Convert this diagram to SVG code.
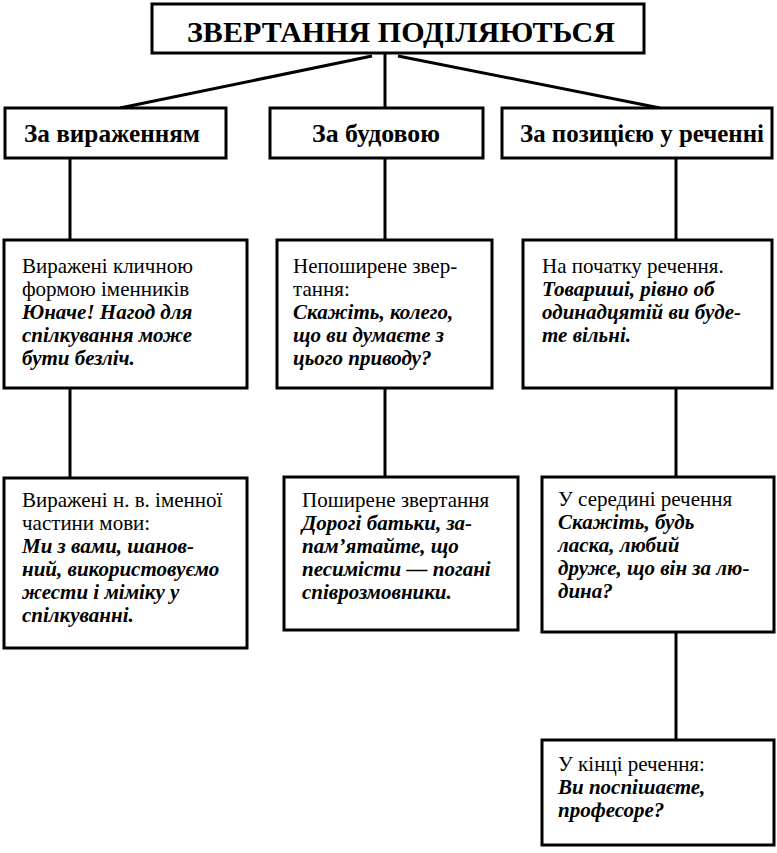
<svg xmlns="http://www.w3.org/2000/svg" width="777" height="853" viewBox="0 0 777 853">
<style>
.box{fill:#fff;stroke:#000;stroke-width:3}
.con{stroke:#000;stroke-width:3;fill:none}
.t{font-family:"Liberation Serif","Times New Roman",serif;font-size:21px;fill:#000}
.bi{font-family:"Liberation Serif","Times New Roman",serif;font-size:21px;font-weight:bold;font-style:italic;fill:#000}
.h{font-family:"Liberation Serif","Times New Roman",serif;font-size:25px;font-weight:bold;fill:#000;text-anchor:middle}
.title{font-family:"Liberation Serif","Times New Roman",serif;font-size:30px;font-weight:bold;fill:#000;text-anchor:middle}
</style>
<rect width="777" height="853" fill="#fff"/>
<g id="connectors">
<line class="con" x1="385" y1="53" x2="385" y2="108"/>
<line class="con" x1="372" y1="56" x2="120" y2="108"/>
<line class="con" x1="398" y1="56" x2="660" y2="108"/>
<line class="con" x1="70" y1="158" x2="70" y2="240"/>
<line class="con" x1="385" y1="158" x2="385" y2="240"/>
<line class="con" x1="676" y1="158" x2="676" y2="240"/>
<line class="con" x1="70" y1="388" x2="70" y2="478"/>
<line class="con" x1="385" y1="388" x2="385" y2="477"/>
<line class="con" x1="676" y1="388" x2="676" y2="477"/>
<line class="con" x1="676" y1="632" x2="676" y2="740"/>
</g>
<g id="title">
<rect class="box" x="152" y="4" width="492" height="49"/>
<text class="title" x="401" y="42" textLength="428" lengthAdjust="spacingAndGlyphs">ЗВЕРТАННЯ  ПОДІЛЯЮТЬСЯ</text>
</g>
<g id="h1">
<rect class="box" x="5" y="108" width="221" height="50"/>
<text class="h" x="112" y="142" textLength="176" lengthAdjust="spacingAndGlyphs">За вираженням</text>
</g>
<g id="h2">
<rect class="box" x="270" y="108" width="213" height="50"/>
<text class="h" x="376" y="142" textLength="128" lengthAdjust="spacingAndGlyphs">За будовою</text>
</g>
<g id="h3">
<rect class="box" x="502" y="108" width="270" height="50"/>
<text class="h" x="642" y="142" textLength="244" lengthAdjust="spacingAndGlyphs">За позицією у реченні</text>
</g>
<g id="a">
<rect class="box" x="4" y="240" width="243" height="148"/>
<text class="t" x="22" y="273">Виражені кличною</text>
<text class="t" x="22" y="296">формою іменників</text>
<text class="bi" x="22" y="319">Юначе! Нагод для</text>
<text class="bi" x="22" y="342">спілкування може</text>
<text class="bi" x="22" y="365">бути безліч.</text>
</g>
<g id="b">
<rect class="box" x="277" y="240" width="215" height="148"/>
<text class="t" x="293" y="273">Непоширене звер-</text>
<text class="t" x="293" y="296">тання:</text>
<text class="bi" x="293" y="319">Скажіть, колего,</text>
<text class="bi" x="293" y="342">що ви думаєте з</text>
<text class="bi" x="293" y="365">цього приводу?</text>
</g>
<g id="c">
<rect class="box" x="523" y="240" width="249" height="148"/>
<text class="t" x="542" y="273">На початку речення.</text>
<text class="bi" x="542" y="296">Товариші, рівно об</text>
<text class="bi" x="542" y="319">одинадцятій ви буде-</text>
<text class="bi" x="542" y="342">те вільні.</text>
</g>
<g id="d">
<rect class="box" x="4" y="478" width="243" height="170"/>
<text class="t" x="22" y="507">Виражені н. в. іменної</text>
<text class="t" x="22" y="530">частини мови:</text>
<text class="bi" x="22" y="553">Ми з вами, шанов-</text>
<text class="bi" x="22" y="576">ний, використовуємо</text>
<text class="bi" x="22" y="599">жести і міміку у</text>
<text class="bi" x="22" y="622">спілкуванні.</text>
</g>
<g id="e">
<rect class="box" x="284" y="477" width="234" height="153"/>
<text class="t" x="302" y="507">Поширене звертання</text>
<text class="bi" x="302" y="530">Дорогі батьки, за-</text>
<text class="bi" x="302" y="553">пам’ятайте, що</text>
<text class="bi" x="302" y="576">песимісти — погані</text>
<text class="bi" x="302" y="599">співрозмовники.</text>
</g>
<g id="f">
<rect class="box" x="542" y="477" width="232" height="155"/>
<text class="t" x="558" y="506">У середині речення</text>
<text class="bi" x="558" y="529">Скажіть, будь</text>
<text class="bi" x="558" y="552">ласка, любий</text>
<text class="bi" x="558" y="575">друже, що він за лю-</text>
<text class="bi" x="558" y="598">дина?</text>
</g>
<g id="g">
<rect class="box" x="542" y="740" width="232" height="105"/>
<text class="t" x="558" y="771">У кінці речення:</text>
<text class="bi" x="558" y="794">Ви поспішаєте,</text>
<text class="bi" x="558" y="817">професоре?</text>
</g>
</svg>
